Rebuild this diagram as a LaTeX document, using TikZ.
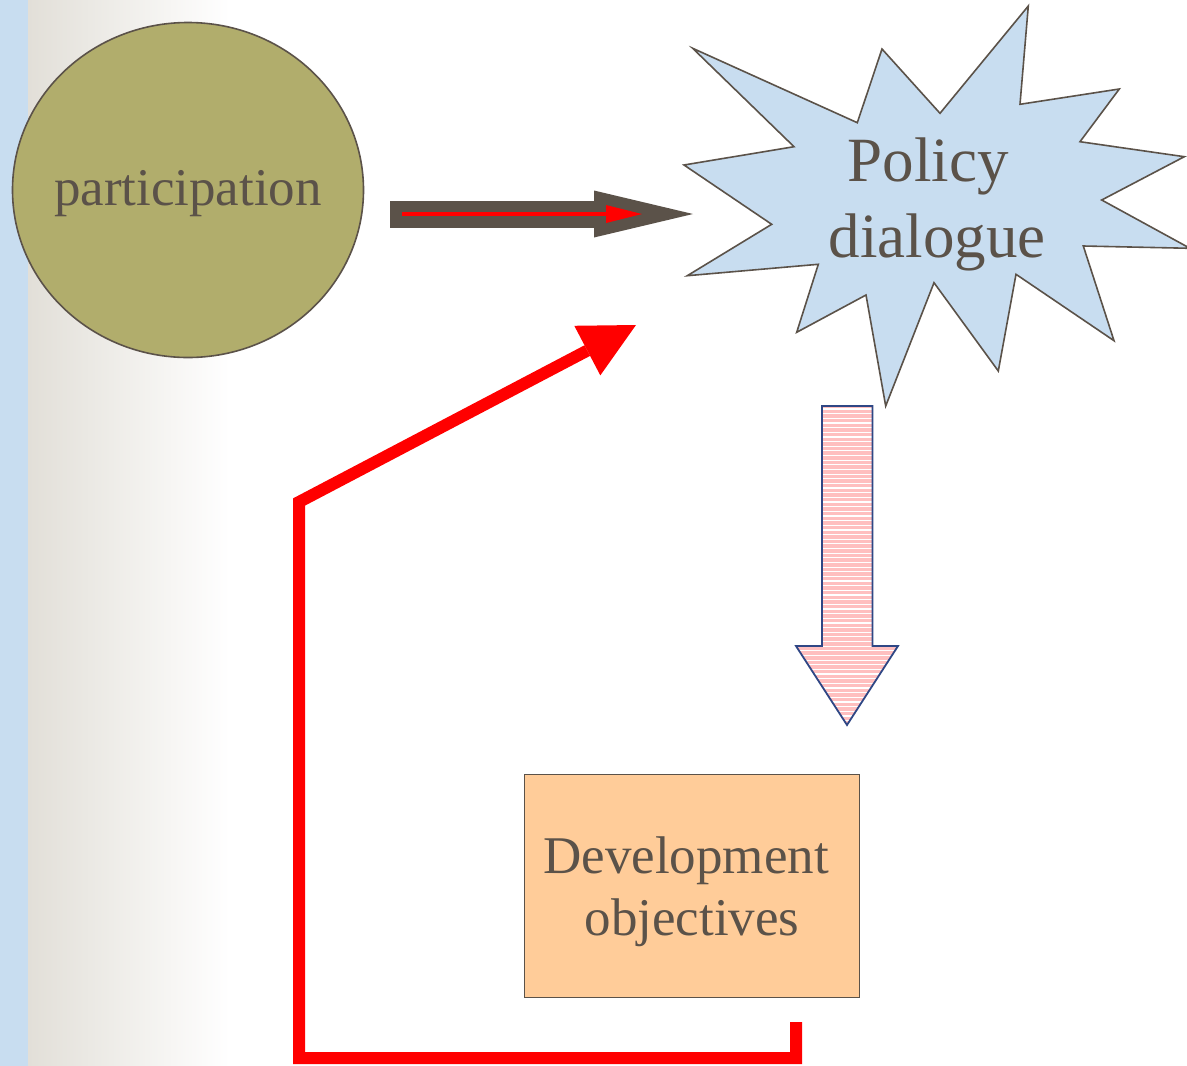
\documentclass[tikz,border=0pt]{standalone}
\usepackage{fontspec}
\setmainfont{Liberation Serif}
\usetikzlibrary{arrows.meta,shapes.geometric}
\definecolor{ink}{HTML}{5B5249}
\definecolor{bandblue}{HTML}{C8DDF0}
\definecolor{starblue}{HTML}{C8DDF0}
\definecolor{olivefill}{HTML}{B1AD6C}
\definecolor{peach}{HTML}{FFCC99}
\definecolor{pinkfill}{HTML}{FFBFBF}
\definecolor{navyline}{HTML}{2F4785}
\definecolor{greyl}{HTML}{E2DFD8}
\definecolor{redline}{HTML}{FF0000}
\tikzset{
  shapeline/.style={draw=ink, line width=1.6pt},
  txt/.style={text=ink, align=center},
}
\begin{document}
\begin{tikzpicture}[x=1pt,y=-1pt]
\useasboundingbox (0,0) rectangle (1187,1066);
% background band and gradient
\shade[left color=greyl, right color=white] (28,0) rectangle (230,1066);
\fill[bandblue] (0,0) rectangle (28,1066);

% starburst
\draw[shapeline, fill=starblue]
  (692.7,48.3) -- (857.3,122.7) -- (882,49) -- (940,113.3) -- (1028.3,6)
  -- (1020,104.3) -- (1119.3,89) -- (1080,141.7) -- (1184.3,156.7)
  -- (1101.7,200) -- (1190,248.3) -- (1083.3,246) -- (1114,340.7)
  -- (1016,274.3) -- (998.3,371) -- (934,282.7) -- (885.7,406)
  -- (866,295) -- (796.7,332.3) -- (818.3,264.3) -- (687.3,275.7)
  -- (771.7,224.3) -- (684,165) -- (794,146.7) -- cycle;
\node[txt, font=\fontsize{63}{76}\selectfont] (policy) at (937,204) {Policy\hspace*{18pt}\\dialogue};

% participation circle
\node[ellipse, shapeline, fill=olivefill, minimum width=351pt, minimum height=335pt,
      inner sep=0pt] (part) at (188,190) {};
\node[txt, font=\fontsize{53}{62}\selectfont] (parttxt) at (part.center) [yshift=-4pt] {participation};

% development box
\node[shapeline, fill=peach, minimum width=335pt, minimum height=223pt, inner sep=0pt] (dev) at (692,886) {};
\node[txt, font=\fontsize{53}{62}\selectfont] (devtxt) at (686,892) {Development\\\hspace*{12pt}objectives};

% dark block arrow with red inner arrow
\coordinate (da1) at (390,214);
\coordinate (da2) at (693,214);
\draw[ink, line width=27pt, -{Triangle[length=99pt,width=47pt,line width=0pt]}] (da1) -- (da2);
\coordinate (ra1) at (402,214);
\coordinate (ra2) at (642,214);
\draw[redline, line width=4.6pt, -{Triangle[length=36pt,width=18pt,line width=0pt]}] (ra1) -- (ra2);

% pink striped down arrow
\coordinate (p1) at (822,406);
\coordinate (p2) at (872.5,406);
\coordinate (p3) at (872.5,646);
\coordinate (p4) at (898,646);
\coordinate (p5) at (847,725);
\coordinate (p6) at (796,646);
\coordinate (p7) at (822,646);
\begin{scope}
  \clip (p1) -- (p2) -- (p3) -- (p4) -- (p5) -- (p6) -- (p7) -- cycle;
  \fill[pinkfill] (790,400) rectangle (905,730);
  \foreach \yy in {409,413.65,...,728} \draw[white, line width=1.2pt] (790,\yy) -- (905,\yy);
\end{scope}
\draw[navyline, line width=1.8pt, line join=miter] (p1) -- (p2) -- (p3) -- (p4) -- (p5) -- (p6) -- (p7) -- cycle;

% red feedback connector
\coordinate (f0) at (796,1022);
\coordinate (f1) at (796,1058);
\coordinate (f2) at (299,1058);
\coordinate (f3) at (299,502);
\coordinate (f4) at (636,325);
\draw[redline, line width=12pt, -{Triangle[length=55pt,width=56pt,line width=0pt]}]
  (f0) -- (f1) -- (f2) -- (f3) -- (f4);
\end{tikzpicture}
\end{document}
